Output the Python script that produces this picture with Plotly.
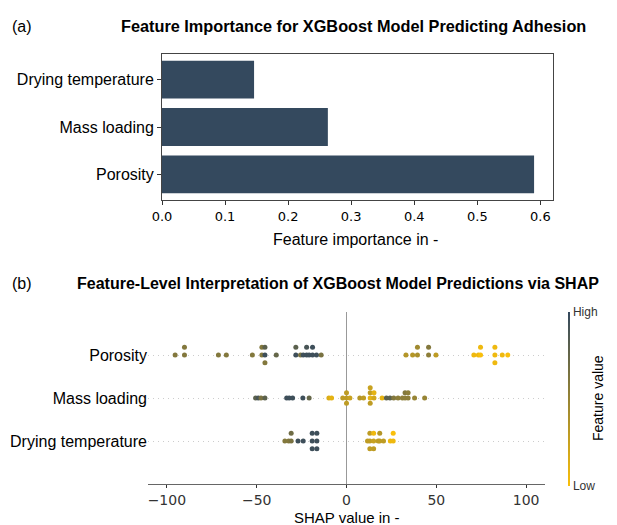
import numpy as np
import plotly.graph_objects as go

# ---------------- panel (a): XGBoost feature importance ----------------
FEATURES = ["Porosity", "Mass loading", "Drying temperature"]
IMPORTANCE = [0.590, 0.263, 0.146]
IMPORTANCE_TICKS = [0.0, 0.1, 0.2, 0.3, 0.4, 0.5, 0.6]
IMPORTANCE_TICK_LABELS = ["0.0", "0.1", "0.2", "0.3", "0.4", "0.5", "0.6"]

# ---------------- panel (b): SHAP values per sample ----------------
# feature values are normalised to 0 (low) .. 1 (high)
POROSITY_SHAP = [-95.4, -90.2, -90.2, -71.3, -66.9, -52.4, -47.1, -47.1,
                 -45.4, -45.4, -45.4, -39.1, -28.2, -28.2, -25.6, -24.1,
                 -22.2, -22.2, -20.8, -18.9, -18.9, -16.7, -14.1,
                 33.1, 36.8, 39.5, 39.5, 45.7, 45.7, 49.8, 70.9, 73.4,
                 74.6, 74.6, 82.6, 82.6, 82.6, 86.7, 89.8]
POROSITY_FVAL = [0.6, 0.6, 0.6, 0.6, 0.6, 0.6, 0.6, 0.6,
                 0.95, 0.8, 0.6, 0.75, 0.95, 0.8, 0.65, 0.95,
                 0.95, 0.9, 0.95, 0.95, 0.95, 0.95, 0.65,
                 0.35, 0.35, 0.4, 0.45, 0.55, 0.6, 0.3, 0.05, 0.05,
                 0.0, 0.05, 0.05, 0.05, 0.05, 0.05, 0.0]

MASS_SHAP = [-50.6, -49.1, -47.6, -45.4, -33.3, -31.9, -30.0, -24.3, -20.8,
             -9.8, -8.3, -2.1, 0.0, 0.0, 0.0, 1.9, 7.4, 9.5,
             13.2, 13.2, 13.2, 13.2, 15.3, 15.3, 19.8, 22.2, 24.2, 26.3,
             28.7, 31.1, 32.6, 32.6, 34.3, 34.3, 37.9, 43.5]
MASS_FVAL = [0.8, 0.9, 0.65, 0.8, 0.95, 0.95, 0.95, 0.95, 0.75,
             0.15, 0.1, 0.3, 0.3, 0.3, 0.3, 0.25, 0.35, 0.3,
             0.1, 0.3, 0.3, 0.25, 0.2, 0.1, 0.1, 0.8, 0.8, 0.6,
             0.55, 0.55, 0.55, 0.6, 0.55, 0.55, 0.5, 0.5]

DRYING_SHAP = [-34.3, -32.2, -30.8, -30.8, -27.0, -24.1, -19.1, -19.1, -19.1,
               -16.5, -16.5, -16.5, 11.7, 13.0, 13.0, 13.0, 15.1, 15.1, 15.1,
               17.6, 18.5, 18.5, 20.6, 24.4, 26.0, 26.0]
DRYING_FVAL = [0.6, 0.6, 0.65, 0.7, 0.95, 0.95, 0.95, 0.95, 0.95,
               0.95, 0.95, 0.95, 0.3, 0.3, 0.3, 0.3, 0.25, 0.05, 0.3,
               0.3, 0.3, 0.35, 0.3, 0.05, 0.05, 0.0]

SHAP_TICKS = [-100, -50, 0, 50, 100]
SHAP_TICK_LABELS = ["\u2212100", "\u221250", "0", "50", "100"]

# row order from bottom to top
SWARM_ROWS = [
    ("Drying temperature", DRYING_SHAP, DRYING_FVAL),
    ("Mass loading", MASS_SHAP, MASS_FVAL),
    ("Porosity", POROSITY_SHAP, POROSITY_FVAL),
]

BAR_COLOR = "#34495E"
COLORSCALE = [[0.0, "#F9BF0B"], [1.0, "#34495E"]]
TEXT_FONT = "Liberation Sans, Arial, sans-serif"
TICK_FONT = "DejaVu Sans, sans-serif"

W, H = 617, 525


def px_x(p):
    return p / W


def px_y(p):
    return 1 - p / H


def swarm_offsets(values, row_height=0.4):
    """Beeswarm layout: equal values stack 0, +1, -1, +2, ... around the row."""
    levels = np.zeros(len(values))
    seen = {}
    for i, v in enumerate(values):
        k = seen.get(v, 0)
        levels[i] = np.ceil(k / 2) * (1 if k % 2 else -1)
        seen[v] = k + 1
    return levels * 0.9 * row_height / np.max(levels + 1)


fig = go.Figure()

fig.add_trace(go.Bar(
    x=IMPORTANCE, y=FEATURES, orientation="h", width=0.8,
    marker=dict(color=BAR_COLOR, line=dict(width=0)),
    xaxis="x", yaxis="y", showlegend=False, hoverinfo="x+y",
))

for row, (name, shap_vals, fvals) in enumerate(SWARM_ROWS):
    shap_vals = np.asarray(shap_vals, dtype=float)
    fig.add_trace(go.Scatter(
        x=shap_vals, y=row + swarm_offsets(shap_vals),
        mode="markers", xaxis="x2", yaxis="y2", name=name, showlegend=False,
        marker=dict(
            size=5, color=fvals, colorscale=COLORSCALE, cmin=0, cmax=1,
            line=dict(width=0),
            showscale=(row == 0),
            colorbar=dict(
                x=px_x(568), xanchor="left", xpad=0, ypad=0,
                y=px_y(399), yanchor="middle", len=174 / H, lenmode="fraction",
                thickness=2, outlinewidth=0,
                tickvals=[0, 1], ticktext=["Low", "High"], ticks="",
                tickfont=dict(family=TEXT_FONT, size=12, color="#333333"),
            ),
        ),
    ))

fig.update_layout(
    width=W, height=H,
    margin=dict(l=0, r=0, t=0, b=0),
    paper_bgcolor="white", plot_bgcolor="white",
    font=dict(family=TEXT_FONT, color="black"),
    xaxis=dict(
        domain=[px_x(162), px_x(553)], range=[0, 0.62], anchor="y",
        tickvals=IMPORTANCE_TICKS, ticktext=IMPORTANCE_TICK_LABELS,
        tickfont=dict(family=TICK_FONT, size=13, color="black"),
        ticks="outside", ticklen=4, tickcolor="#333333",
        showline=True, mirror=True, linecolor="#444444", linewidth=1,
        showgrid=False, zeroline=False, automargin=False,
    ),
    yaxis=dict(
        domain=[px_y(200), px_y(54)], range=[-0.54, 2.54], anchor="x",
        type="category", categoryorder="array", categoryarray=FEATURES,
        tickfont=dict(family=TEXT_FONT, size=16, color="black"),
        ticks="outside", ticklen=4, tickcolor="#333333",
        showline=True, mirror=True, linecolor="#444444", linewidth=1,
        showgrid=False, zeroline=False, automargin=False,
    ),
    xaxis2=dict(
        domain=[px_x(148), px_x(545)], range=[-110.5, 110.5], anchor="y2",
        tickvals=SHAP_TICKS, ticktext=SHAP_TICK_LABELS,
        tickfont=dict(family=TICK_FONT, size=14, color="#333333"),
        ticks="outside", ticklen=3, tickcolor="#333333",
        showline=True, linecolor="#666666", linewidth=1,
        showgrid=False, zeroline=True, zerolinecolor="#999999",
        zerolinewidth=1.3, automargin=False,
    ),
    yaxis2=dict(
        domain=[px_y(484), px_y(312)], range=[-1, 3], anchor="x2",
        tickvals=[0, 1, 2], ticktext=[r[0] for r in SWARM_ROWS],
        tickfont=dict(family=TEXT_FONT, size=16, color="black"),
        ticks="", showline=False, zeroline=False,
        showgrid=True, gridcolor="#cccccc", gridwidth=1, griddash="1px,4px",
        automargin=False,
    ),
    annotations=[
        dict(text="(a)", x=px_x(10), y=px_y(26), xanchor="left", yanchor="middle",
             font=dict(size=16)),
        dict(text="<b>Feature Importance for XGBoost Model Predicting Adhesion</b>",
             x=px_x(353), y=px_y(26), xanchor="center", yanchor="middle",
             font=dict(size=16.3)),
        dict(text="Feature importance in -", x=px_x(355), y=px_y(240),
             xanchor="center", yanchor="middle", font=dict(size=16)),
        dict(text="(b)", x=px_x(10), y=px_y(283), xanchor="left", yanchor="middle",
             font=dict(size=16)),
        dict(text="<b>Feature-Level Interpretation of XGBoost Model Predictions via SHAP</b>",
             x=px_x(338), y=px_y(283), xanchor="center", yanchor="middle",
             font=dict(size=16)),
        dict(text="SHAP value in -", x=px_x(347), y=px_y(517),
             xanchor="center", yanchor="middle", font=dict(size=15)),
        dict(text="Feature value", x=px_x(598), y=px_y(398), textangle=-90,
             xanchor="center", yanchor="middle", font=dict(size=14)),
    ],
)
for a in fig.layout.annotations:
    a.update(xref="paper", yref="paper", showarrow=False)

fig.write_html("out.html")
